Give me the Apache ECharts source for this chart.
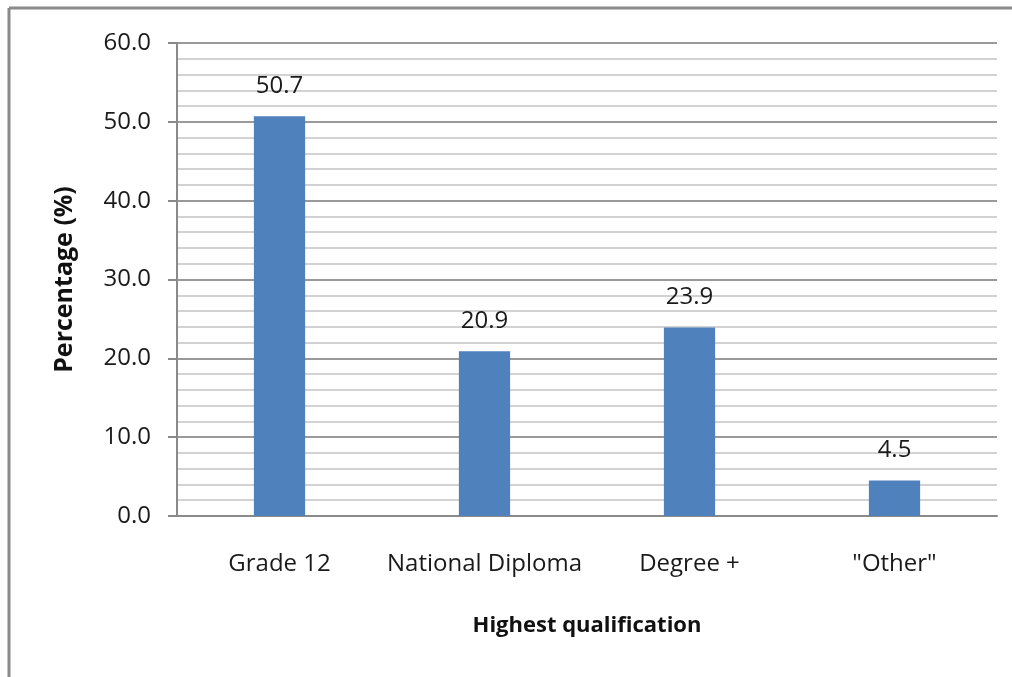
<!DOCTYPE html>
<html>
<head>
<meta charset="utf-8">
<script src="https://cdn.jsdelivr.net/npm/echarts@6/dist/echarts.min.js"></script>
<style>
  html, body { margin: 0; padding: 0; background: #ffffff; }
  #chart { width: 1012px; height: 677px; }
</style>
</head>
<body>
<div id="chart"></div>
<script>
// Highest qualification of respondents, percentage per group
const categories = ['Grade 12', 'National Diploma', 'Degree +', '"Other"'];
const percentages = [50.7, 20.9, 23.9, 4.5];
const yTicks = { min: 0, max: 60, interval: 10 };

const FONT = '"Open Sans", sans-serif';
const chart = echarts.init(document.getElementById('chart'), null, { renderer: 'canvas' });

chart.setOption({
  backgroundColor: '#ffffff',
  animation: false,
  // frame lines along the top and left edges
  graphic: [
    { type: 'line', shape: { x1: 9, y1: 8, x2: 1012, y2: 8 }, style: { stroke: '#8a8a8a', lineWidth: 3 } },
    { type: 'line', shape: { x1: 9, y1: 8, x2: 9, y2: 677 }, style: { stroke: '#8a8a8a', lineWidth: 3 } }
  ],
  grid: { left: 177, right: 15, top: 43, bottom: 161 },
  xAxis: {
    type: 'category',
    data: categories,
    name: 'Highest qualification',
    nameLocation: 'middle',
    nameGap: 99,
    nameTextStyle: { fontFamily: FONT, fontSize: 22, fontWeight: 'bold', color: '#111111' },
    axisLine: { show: true, lineStyle: { color: '#8a8a8a', width: 2 } },
    axisTick: { show: false },
    axisLabel: { interval: 0, margin: 36, fontFamily: FONT, fontSize: 24, color: '#1a1a1a' },
    splitLine: { show: false }
  },
  yAxis: {
    type: 'value',
    min: yTicks.min,
    max: yTicks.max,
    interval: yTicks.interval,
    name: 'Percentage (%)',
    nameLocation: 'middle',
    nameRotate: 90,
    nameGap: 100,
    nameTextStyle: { fontFamily: FONT, fontSize: 25, fontWeight: 'bold', color: '#111111' },
    axisLine: { show: true, lineStyle: { color: '#8a8a8a', width: 2 } },
    axisTick: { show: true, length: 9, lineStyle: { color: '#8a8a8a', width: 2 } },
    axisLabel: {
      margin: 26,
      fontFamily: FONT,
      fontSize: 24,
      color: '#1a1a1a',
      formatter: v => v.toFixed(1)
    },
    splitLine: { show: true, lineStyle: { color: '#9a9a9a', width: 2 } },
    minorTick: { show: false, splitNumber: 5 },
    minorSplitLine: { show: true, lineStyle: { color: '#d2d2d2', width: 2 } }
  },
  series: [{
    type: 'bar',
    data: percentages,
    barWidth: '25%',
    itemStyle: { color: '#4f81bd' },
    label: {
      show: true,
      position: 'top',
      distance: 18,
      fontFamily: FONT,
      fontSize: 24,
      color: '#1a1a1a',
      formatter: p => p.value.toFixed(1)
    }
  }]
});
</script>
</body>
</html>
